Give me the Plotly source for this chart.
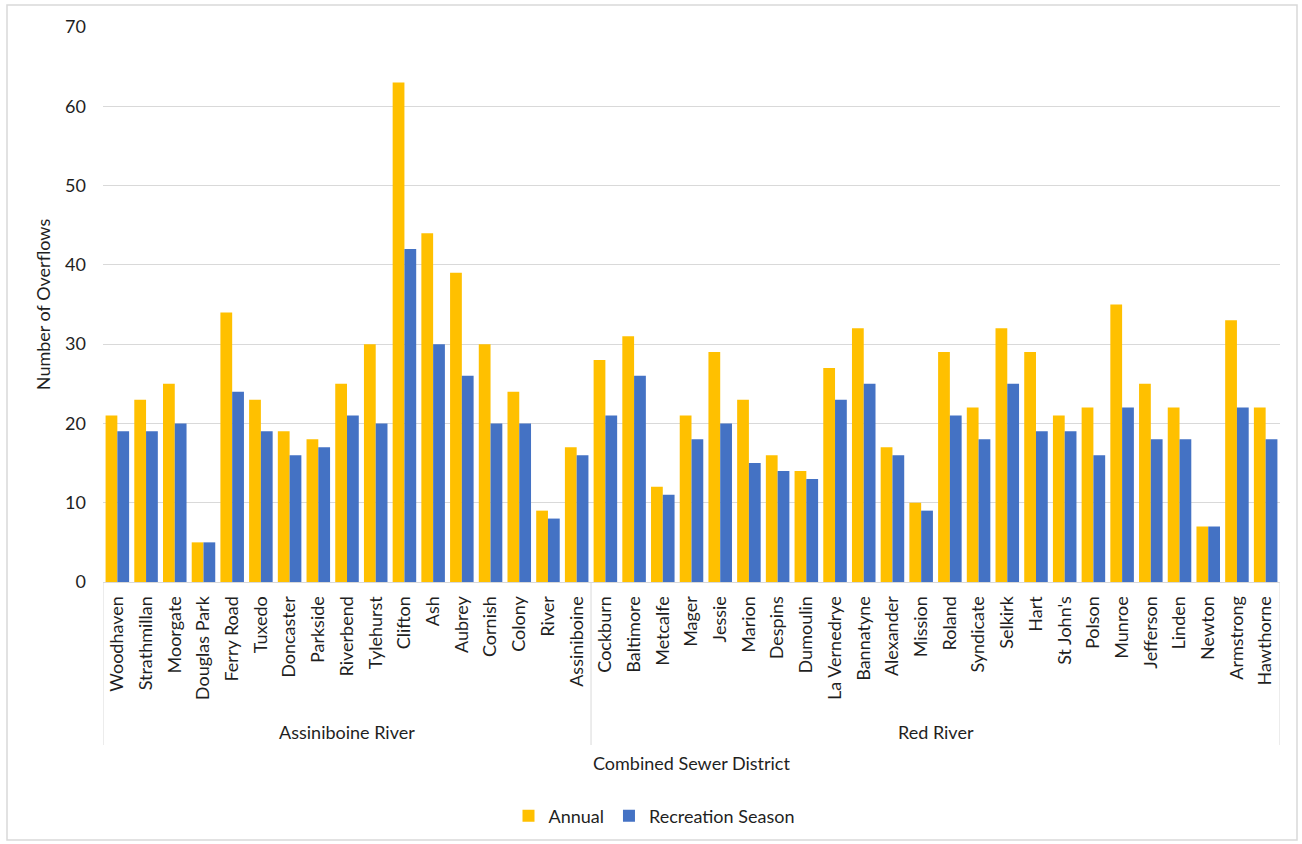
import plotly.graph_objects as go

groups = ["Assiniboine River", "Red River"]
assiniboine_names = ["Woodhaven", "Strathmillan", "Moorgate", "Douglas Park", "Ferry Road", "Tuxedo",
                     "Doncaster", "Parkside", "Riverbend", "Tylehurst", "Clifton", "Ash", "Aubrey",
                     "Cornish", "Colony", "River", "Assiniboine"]
red_names = ["Cockburn", "Baltimore", "Metcalfe", "Mager", "Jessie", "Marion", "Despins", "Dumoulin",
             "La Vernedrye", "Bannatyne", "Alexander", "Mission", "Roland", "Syndicate", "Selkirk", "Hart",
             "St John's", "Polson", "Munroe", "Jefferson", "Linden", "Newton", "Armstrong", "Hawthorne"]
annual = [21, 23, 25, 5, 34, 23, 19, 18, 25, 30, 63, 44, 39, 30, 24, 9, 17,
          28, 31, 12, 21, 29, 23, 16, 14, 27, 32, 17, 10, 29, 22, 32, 29, 21, 22, 35, 25, 22, 7, 33, 22]
recreation = [19, 19, 20, 5, 24, 19, 16, 17, 21, 20, 42, 30, 26, 20, 20, 8, 16,
              21, 26, 11, 18, 20, 15, 14, 13, 23, 25, 16, 9, 21, 18, 25, 19, 19, 16, 22, 18, 18, 7, 22, 18]
y_ticks = [0, 10, 20, 30, 40, 50, 60, 70]

names = assiniboine_names + red_names
W, H = 1302, 844
L, R, T, B = 103, 22, 27, 262
pw, ph = W - L - R, H - T - B
FONT = "Lato"
TXT = "#1f1f1f"
FS = 18

def py(px):
    return (H - B - px) / ph

def pxx(px):
    return (px - L) / pw

fig = go.Figure()
fig.add_trace(go.Bar(x=names, y=annual, name="Annual", marker_color="#FFC000", marker_line_width=0))
fig.add_trace(go.Bar(x=names, y=recreation, name="Recreation Season", marker_color="#4472C4", marker_line_width=0))

shapes = []
shapes.append(dict(type="rect", xref="paper", yref="paper", x0=pxx(7), x1=pxx(1297), y0=py(840), y1=py(5),
                   line=dict(color="#d9d9d9", width=1.5), layer="below"))
sizes = [len(assiniboine_names), len(red_names)]
bounds = [-0.5]
for s in sizes:
    bounds.append(bounds[-1] + s)
for b in bounds:
    shapes.append(dict(type="line", xref="x", yref="paper", x0=b, x1=b, y0=0, y1=py(745),
                       line=dict(color="#d9d9d9", width=1)))

annotations = []
for g, a, b in zip(groups, bounds[:-1], bounds[1:]):
    annotations.append(dict(text=g, xref="x", yref="paper", x=(a + b) / 2, y=py(732), showarrow=False,
                            font=dict(family=FONT, size=FS, color=TXT), xanchor="center", yanchor="middle"))
annotations.append(dict(text="Combined Sewer District", xref="paper", yref="paper", x=0.5, y=py(763),
                        showarrow=False, font=dict(family=FONT, size=FS, color=TXT),
                        xanchor="center", yanchor="middle"))

fig.update_layout(
    width=W, height=H,
    margin=dict(l=L, r=R, t=T, b=B, autoexpand=False),
    paper_bgcolor="white", plot_bgcolor="white",
    barmode="group", bargap=0.18, bargroupgap=0,
    font=dict(family=FONT, size=FS, color=TXT),
    shapes=shapes, annotations=annotations,
    legend=dict(orientation="h", x=pxx(654), xanchor="center", y=py(816), yanchor="middle",
                font=dict(family=FONT, size=FS, color=TXT), itemwidth=30, traceorder="normal"),
    xaxis=dict(type="category", tickangle=-90, showgrid=False, showline=True, linecolor="#d9d9d9",
               ticks="", ticklabelstandoff=6, tickfont=dict(family=FONT, size=FS, color=TXT),
               range=[-0.5, len(names) - 0.5]),
    yaxis=dict(range=[0, 70], tickvals=y_ticks, showgrid=True, gridcolor="#d9d9d9", gridwidth=1,
               zeroline=False, showline=False, ticks="", ticklabelstandoff=16,
               tickfont=dict(family=FONT, size=FS, color=TXT),
               title=dict(text="Number of Overflows", font=dict(family=FONT, size=FS, color=TXT), standoff=9)),
)

fig.write_html("out.html")
